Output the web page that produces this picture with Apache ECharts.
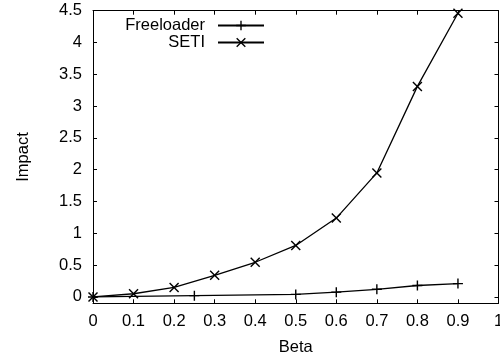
<!DOCTYPE html>
<html>
<head>
<meta charset="utf-8">
<script src="https://cdn.jsdelivr.net/npm/echarts@6/dist/echarts.min.js"></script>
<style>html,body{margin:0;padding:0;background:#fff}#c{width:500px;height:358px}</style>
</head>
<body>
<div id="c"></div>
<script>
var freeloaderBeta = [0, 0.25, 0.5, 0.6, 0.7, 0.8, 0.9];
var freeloaderImpact = [0, 0.02, 0.04, 0.075, 0.12, 0.18, 0.21];
var setiBeta = [0, 0.1, 0.2, 0.3, 0.4, 0.5, 0.6, 0.7, 0.8, 0.9];
var setiImpact = [0, 0.05, 0.15, 0.34, 0.545, 0.81, 1.24, 1.95, 3.31, 4.46];
var xTicks = [0, 0.1, 0.2, 0.3, 0.4, 0.5, 0.6, 0.7, 0.8, 0.9, 1];
var yTicks = [0, 0.5, 1, 1.5, 2, 2.5, 3, 3.5, 4, 4.5];

var FONT = 'Liberation Sans, Arial, Helvetica, sans-serif';
var FS = 16.5;
var PLUS = 'path://M-1.4,-10 L1.4,-10 L1.4,-1.4 L10,-1.4 L10,1.4 L1.4,1.4 L1.4,10 L-1.4,10 L-1.4,1.4 L-10,1.4 L-10,-1.4 L-1.4,-1.4 Z';
var CROSS = 'path://M-10,-8 L-8,-10 L0,-2 L8,-10 L10,-8 L2,0 L10,8 L8,10 L0,2 L-8,10 L-10,8 L-2,0 Z';

function zip(a, b) { return a.map(function (v, i) { return [v, b[i]]; }); }

var axisLine = { show: true, onZero: false, lineStyle: { color: '#000', width: 1 } };
var tick = { show: true, inside: true, length: 4, lineStyle: { color: '#000', width: 1 } };
var legendText = { fontFamily: FONT, fontSize: FS, color: '#000',
  rich: { t: { fontFamily: FONT, fontSize: FS, color: '#000', padding: [0, 8, 0, 0] } } };
function legendFmt(n) { return '{t|' + n + '}'; }

var chart = echarts.init(document.getElementById('c'), null, { renderer: 'canvas' });
chart.setOption({
  animation: false,
  backgroundColor: '#fff',
  grid: { left: 93, right: 1.5, top: 10.7, bottom: 54.7, outerBoundsMode: 'none', containLabel: false },
  legend: [
    { data: ['Freeloader'], orient: 'vertical', right: 235, top: 17, padding: 0, align: 'right',
      itemWidth: 46, itemHeight: 12, formatter: legendFmt, textStyle: legendText },
    { data: ['SETI'], orient: 'vertical', right: 235, top: 34, padding: 0, align: 'right',
      itemWidth: 46, itemHeight: 12, formatter: legendFmt, textStyle: legendText }
  ],
  xAxis: [
    { type: 'value', min: 0, max: 1, position: 'bottom',
      axisLine: axisLine, axisTick: Object.assign({ customValues: xTicks }, tick), splitLine: { show: false },
      axisLabel: { customValues: xTicks, color: '#000', fontFamily: FONT, fontSize: FS, margin: 10 },
      name: 'Beta', nameLocation: 'middle', nameGap: 36,
      nameTextStyle: { color: '#000', fontFamily: FONT, fontSize: FS } },
    { type: 'value', min: 0, max: 1, position: 'top',
      axisLine: axisLine, axisTick: Object.assign({ customValues: xTicks }, tick), splitLine: { show: false },
      axisLabel: { show: false } }
  ],
  yAxis: [
    { type: 'value', min: -0.1, max: 4.5, position: 'left',
      axisLine: axisLine, axisTick: Object.assign({ customValues: yTicks }, tick), splitLine: { show: false },
      axisLabel: { customValues: yTicks, color: '#000', fontFamily: FONT, fontSize: FS, margin: 11 },
      name: 'Impact', nameLocation: 'middle', nameGap: 61, nameRotate: 90,
      nameTextStyle: { color: '#000', fontFamily: FONT, fontSize: FS } },
    { type: 'value', min: -0.1, max: 4.5, position: 'right',
      axisLine: axisLine, axisTick: Object.assign({ customValues: yTicks }, tick), splitLine: { show: false },
      axisLabel: { show: false } }
  ],
  series: [
    { name: 'Freeloader', type: 'line', xAxisIndex: 0, yAxisIndex: 0, data: zip(freeloaderBeta, freeloaderImpact),
      symbol: PLUS, symbolSize: 10, showAllSymbol: true, clip: false,
      lineStyle: { color: '#000', width: 1.3 }, itemStyle: { color: '#000', borderWidth: 0 } },
    { name: 'SETI', type: 'line', xAxisIndex: 0, yAxisIndex: 0, data: zip(setiBeta, setiImpact),
      symbol: CROSS, symbolSize: 10, showAllSymbol: true, clip: false,
      lineStyle: { color: '#000', width: 1.3 }, itemStyle: { color: '#000', borderWidth: 0 } }
  ]
});
</script>
</body>
</html>
